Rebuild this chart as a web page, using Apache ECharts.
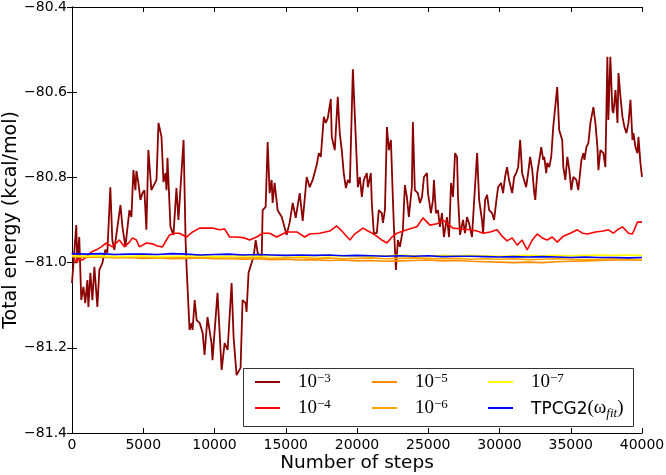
<!DOCTYPE html>
<html>
<head>
<meta charset="utf-8">
<script src="https://cdn.jsdelivr.net/npm/echarts@6/dist/echarts.min.js"></script>
<style>html,body{margin:0;padding:0;background:#fff}#c{width:666px;height:475px}</style>
</head>
<body>
<div id="c"></div>
<script>
// ---- data ----
const xTicks = [0, 5000, 10000, 15000, 20000, 25000, 30000, 35000, 40000];
const yTicks = [-81.4, -81.2, -81.0, -80.8, -80.6, -80.4];
const seriesNames = ['1e-3', '1e-4', '1e-5', '1e-6', '1e-7', 'TPCG2'];

// 10^-3 : [step, energy]
const tol1e3 = [[0,-81.048],[300,-80.912],[370,-81.001],[510,-80.940],[650,-81.088],[800,-81.057],[930,-81.095],[1080,-81.041],[1150,-81.104],[1290,-81.024],[1430,-81.088],[1570,-81.010],[1640,-81.041],[1780,-81.104],[1920,-81.017],[2130,-81.001],[2340,-80.970],[2480,-80.977],[2690,-80.823],[2830,-80.947],[2970,-80.970],[3190,-80.916],[3400,-80.865],[3540,-80.916],[3750,-80.963],[3820,-80.940],[4030,-80.877],[4170,-80.893],[4310,-80.783],[4450,-80.830],[4520,-80.785],[4660,-80.813],[4800,-80.853],[4940,-80.837],[5080,-80.830],[5220,-80.923],[5360,-80.736],[5570,-80.830],[5930,-80.806],[6070,-80.672],[6280,-80.705],[6420,-80.811],[6560,-80.790],[6630,-80.830],[6700,-80.754],[6910,-80.916],[7120,-80.935],[7330,-80.825],[7470,-80.900],[7830,-80.712],[7970,-80.947],[8040,-81.010],[8250,-81.158],[8390,-81.142],[8460,-81.158],[8610,-81.088],[8750,-81.135],[8960,-81.142],[9170,-81.165],[9300,-81.217],[9510,-81.128],[9790,-81.189],[9860,-81.229],[9930,-81.196],[10210,-81.071],[10500,-81.252],[10710,-81.189],[10920,-81.205],[11200,-81.048],[11340,-81.175],[11550,-81.264],[11830,-81.247],[11970,-81.088],[12180,-81.095],[12250,-81.116],[12390,-81.024],[12600,-81.001],[12740,-80.987],[12890,-80.947],[13030,-80.977],[13310,-80.989],[13380,-80.877],[13590,-80.869],[13730,-80.717],[13870,-80.837],[14010,-80.806],[14080,-80.860],[14220,-80.813],[14430,-80.877],[14720,-80.893],[14860,-80.895],[15060,-80.935],[15280,-80.905],[15490,-80.860],[15700,-80.895],[15980,-80.837],[16190,-80.902],[16470,-80.799],[16680,-80.823],[16890,-80.806],[17170,-80.771],[17320,-80.743],[17460,-80.752],[17670,-80.658],[17810,-80.672],[17950,-80.661],[18160,-80.616],[18230,-80.705],[18440,-80.736],[18650,-80.611],[18790,-80.696],[18930,-80.736],[19070,-80.790],[19220,-80.825],[19360,-80.806],[19500,-80.813],[19710,-80.546],[19920,-80.712],[20060,-80.823],[20200,-80.799],[20340,-80.846],[20480,-80.806],[20690,-80.790],[20760,-80.823],[20970,-80.790],[21040,-80.860],[21180,-80.931],[21390,-80.931],[21530,-80.877],[21740,-80.884],[21820,-80.907],[21960,-80.877],[22100,-80.682],[22240,-80.736],[22380,-80.712],[22520,-80.853],[22590,-80.916],[22730,-81.017],[22870,-80.947],[23010,-80.963],[23220,-80.923],[23360,-80.818],[23500,-80.846],[23640,-80.893],[23850,-80.823],[23920,-80.670],[24060,-80.830],[24270,-80.837],[24420,-80.860],[24560,-80.846],[24700,-80.799],[24910,-80.790],[24980,-80.837],[25190,-80.884],[25330,-80.853],[25400,-80.806],[25540,-80.884],[25680,-80.877],[25820,-80.916],[25960,-80.884],[26100,-80.940],[26310,-80.893],[26460,-80.940],[26600,-80.813],[26740,-80.846],[26880,-80.743],[27020,-80.752],[27090,-80.846],[27230,-80.935],[27440,-80.900],[27580,-80.931],[27720,-80.893],[27860,-80.907],[28070,-80.940],[28210,-80.860],[28430,-80.743],[28570,-80.853],[28770,-80.900],[28850,-80.931],[28990,-80.853],[29130,-80.841],[29270,-80.877],[29480,-80.884],[29620,-80.900],[29760,-80.860],[29900,-80.823],[30110,-80.813],[30250,-80.837],[30390,-80.799],[30530,-80.776],[30670,-80.806],[30890,-80.837],[31030,-80.799],[31170,-80.790],[31310,-80.776],[31450,-80.712],[31590,-80.790],[31870,-80.823],[32010,-80.790],[32150,-80.752],[32300,-80.783],[32440,-80.837],[32510,-80.853],[32650,-80.790],[32790,-80.787],[32930,-80.729],[33070,-80.759],[33140,-80.752],[33280,-80.790],[33350,-80.766],[33490,-80.776],[33630,-80.752],[33770,-80.682],[33910,-80.635],[34050,-80.588],[34190,-80.689],[34400,-80.712],[34480,-80.776],[34620,-80.806],[34760,-80.752],[34900,-80.783],[35040,-80.830],[35180,-80.799],[35390,-80.806],[35530,-80.830],[35750,-80.759],[35890,-80.743],[35960,-80.759],[36100,-80.729],[36240,-80.719],[36380,-80.672],[36590,-80.635],[36730,-80.672],[36870,-80.729],[36940,-80.783],[37080,-80.736],[37290,-80.743],[37430,-80.776],[37570,-80.517],[37640,-80.665],[37780,-80.517],[37920,-80.642],[37990,-80.649],[38140,-80.595],[38280,-80.672],[38350,-80.555],[38490,-80.611],[38630,-80.658],[38770,-80.682],[38910,-80.696],[39050,-80.672],[39190,-80.618],[39330,-80.712],[39400,-80.696],[39540,-80.729],[39680,-80.743],[39750,-80.705],[39890,-80.766],[40000,-80.799]];

// 10^-4 : [step, energy]
const tol1e4 = [[0,-80.977],[300,-81.001],[510,-80.989],[720,-80.994],[1000,-80.987],[1360,-80.975],[1710,-80.970],[2060,-80.963],[2410,-80.954],[2830,-80.963],[3320,-80.947],[3680,-80.963],[4030,-80.952],[4240,-80.942],[4520,-80.947],[4730,-80.963],[5220,-80.954],[5640,-80.956],[5990,-80.961],[6350,-80.963],[6630,-80.947],[6840,-80.935],[7190,-80.931],[7540,-80.931],[8030,-80.940],[8460,-80.928],[8950,-80.919],[9440,-80.919],[9860,-80.919],[10350,-80.923],[10710,-80.921],[11060,-80.940],[11550,-80.940],[12110,-80.942],[12460,-80.947],[12960,-80.940],[13380,-80.931],[13870,-80.931],[14360,-80.940],[15060,-80.928],[15770,-80.928],[16330,-80.940],[16680,-80.933],[17380,-80.931],[18090,-80.926],[18580,-80.914],[19000,-80.928],[19500,-80.947],[19840,-80.933],[20410,-80.919],[20900,-80.928],[21390,-80.938],[21740,-80.947],[22100,-80.954],[22450,-80.940],[22800,-80.931],[23500,-80.923],[24210,-80.916],[24630,-80.895],[25120,-80.912],[25610,-80.909],[26030,-80.900],[26740,-80.919],[27370,-80.921],[27930,-80.923],[28430,-80.926],[28850,-80.931],[29340,-80.928],[29830,-80.923],[30180,-80.938],[30530,-80.949],[30890,-80.942],[31240,-80.959],[31590,-80.947],[31940,-80.970],[32300,-80.947],[32650,-80.933],[33000,-80.942],[33350,-80.947],[33700,-80.940],[34050,-80.952],[34480,-80.938],[34970,-80.931],[35460,-80.923],[35820,-80.931],[36170,-80.933],[36730,-80.928],[37290,-80.926],[37640,-80.923],[37990,-80.931],[38280,-80.923],[38630,-80.916],[39050,-80.931],[39330,-80.933],[39680,-80.905],[40000,-80.905]];

// steps shared by the four nearly flat curves
const flatSteps = [0,1000,2000,3000,4000,5000,6000,7000,8000,9000,10000,11000,12000,13000,14000,15000,16000,17000,18000,19000,20000,21000,22000,23000,24000,25000,26000,27000,28000,29000,30000,31000,32000,33000,34000,35000,36000,37000,38000,39000,40000];
const tol1e5 = [-80.986,-80.988,-80.987,-80.989,-80.988,-80.990,-80.989,-80.991,-80.990,-80.989,-80.991,-80.990,-80.992,-80.991,-80.993,-80.992,-80.994,-80.993,-80.995,-80.994,-80.996,-80.995,-80.997,-80.996,-80.995,-80.994,-80.996,-80.995,-80.997,-80.998,-80.999,-81.000,-80.999,-81.000,-80.998,-80.997,-80.996,-80.995,-80.994,-80.993,-80.994];
const tol1e6 = [-80.985,-80.986,-80.987,-80.986,-80.988,-80.987,-80.989,-80.988,-80.987,-80.989,-80.988,-80.990,-80.989,-80.988,-80.990,-80.989,-80.988,-80.990,-80.989,-80.991,-80.990,-80.989,-80.991,-80.990,-80.989,-80.990,-80.991,-80.990,-80.992,-80.991,-80.992,-80.991,-80.993,-80.992,-80.991,-80.992,-80.993,-80.992,-80.991,-80.992,-80.993];
const tol1e7 = [-80.984,-80.985,-80.984,-80.986,-80.985,-80.984,-80.986,-80.985,-80.985,-80.984,-80.986,-80.985,-80.984,-80.985,-80.984,-80.983,-80.985,-80.984,-80.983,-80.985,-80.984,-80.985,-80.984,-80.983,-80.984,-80.985,-80.983,-80.984,-80.983,-80.984,-80.985,-80.984,-80.983,-80.984,-80.983,-80.984,-80.983,-80.982,-80.983,-80.982,-80.983];
const tpcg2 = [-80.979,-80.980,-80.979,-80.981,-80.980,-80.980,-80.981,-80.979,-80.980,-80.982,-80.981,-80.980,-80.982,-80.981,-80.982,-80.983,-80.982,-80.983,-80.982,-80.984,-80.983,-80.984,-80.985,-80.984,-80.985,-80.984,-80.986,-80.985,-80.985,-80.986,-80.987,-80.986,-80.987,-80.986,-80.987,-80.988,-80.987,-80.988,-80.988,-80.989,-80.988];

// ---- chart ----
const zip = (xs, ys) => xs.map((x, i) => [x, ys[i]]);
const colors = {'1e-3':'#8b0000','1e-4':'#ff0000','1e-5':'#ff8c00','1e-6':'#ffa500','1e-7':'#ffff00','TPCG2':'#0000ff'};
const dataMap = {
  '1e-3': tol1e3, '1e-4': tol1e4,
  '1e-5': zip(flatSteps, tol1e5), '1e-6': zip(flatSteps, tol1e6),
  '1e-7': zip(flatSteps, tol1e7), 'TPCG2': zip(flatSteps, tpcg2)
};
const sans = 'DejaVu Sans';
const serif = 'Liberation Serif';
const fmtY = v => (v < 0 ? '\u2212' : '') + Math.abs(v).toFixed(1);

const rich = {
  sp: {width: 13, fontSize: 17, lineHeight: 20},
  b: {fontFamily: serif, fontSize: 19, lineHeight: 20, color: '#000', verticalAlign: 'bottom'},
  s: {fontFamily: serif, fontSize: 13, lineHeight: 12, color: '#000', verticalAlign: 'top'},
  t: {fontFamily: sans, fontSize: 17, lineHeight: 20, color: '#000', verticalAlign: 'bottom'},
  m: {fontFamily: serif, fontSize: 19, lineHeight: 20, color: '#000', verticalAlign: 'bottom'},
  sub: {fontFamily: serif, fontStyle: 'italic', fontSize: 13, lineHeight: 12, color: '#000', verticalAlign: 'bottom', padding: [0,0,-2,0]}
};
const legendFmt = name => {
  if (name === 'TPCG2') return '{sp| }{t|TPCG2}{m|(\u03c9}{sub|fit}{m|)}';
  return '{sp| }{b|10}{s|\u2212' + name.slice(3) + '}';
};
const mkLegend = (names, left) => ({
  data: names, left: left, top: 372, orient: 'vertical', itemGap: 6,
  itemWidth: 25, itemHeight: 2, icon: 'rect', padding: 0,
  formatter: legendFmt, textStyle: {rich: rich, fontSize: 17, lineHeight: 20},
  selectedMode: false
});

const axisCommon = {
  type: 'value',
  axisLine: {show: true, lineStyle: {color: '#000', width: 1}},
  axisTick: {show: true, inside: true, length: 5, lineStyle: {color: '#000', width: 1}},
  splitLine: {show: false}
};

const option = {
  animation: false,
  backgroundColor: '#fff',
  grid: {left: 72, right: 24, top: 7, bottom: 42, containLabel: false, outerBoundsMode: 'none'},
  xAxis: [
    Object.assign({}, axisCommon, {
      position: 'bottom', min: xTicks[0], max: xTicks[xTicks.length - 1], interval: xTicks[1] - xTicks[0],
      axisLabel: {show: true, fontFamily: sans, fontSize: 14, color: '#000', margin: 5, formatter: v => String(v)},
      name: 'Number of steps', nameLocation: 'middle', nameGap: 21, nameMoveOverlap: false,
      nameTextStyle: {fontFamily: sans, fontSize: 18.5, color: '#000'}
    }),
    Object.assign({}, axisCommon, {
      position: 'top', min: xTicks[0], max: xTicks[xTicks.length - 1], interval: xTicks[1] - xTicks[0],
      axisLabel: {show: false}
    })
  ],
  yAxis: [
    Object.assign({}, axisCommon, {
      position: 'left', min: yTicks[0], max: yTicks[yTicks.length - 1], interval: 0.2,
      axisLabel: {show: true, fontFamily: sans, fontSize: 14, color: '#000', margin: 5, formatter: fmtY},
      name: 'Total energy (kcal/mol)', nameLocation: 'middle', nameGap: 51, nameMoveOverlap: false,
      nameTextStyle: {fontFamily: sans, fontSize: 19, color: '#000'}
    }),
    Object.assign({}, axisCommon, {
      position: 'right', min: yTicks[0], max: yTicks[yTicks.length - 1], interval: 0.2,
      axisLabel: {show: false}
    })
  ],
  legend: [
    mkLegend(['1e-3', '1e-4'], 255),
    mkLegend(['1e-5', '1e-6'], 372),
    mkLegend(['1e-7', 'TPCG2'], 488)
  ],
  graphic: {
    z: 3,
    elements: [{
      type: 'rect', z: 3,
      shape: {x: 243.5, y: 368.5, width: 390, height: 58},
      style: {fill: '#fff', stroke: '#333', lineWidth: 1}
    }]
  },
  series: seriesNames.map(n => ({
    name: n, type: 'line', xAxisIndex: 0, yAxisIndex: 0,
    data: dataMap[n], showSymbol: false, symbol: 'none',
    lineStyle: {color: colors[n], width: n === '1e-3' ? 1.8 : 1.6},
    itemStyle: {color: colors[n]},
    emphasis: {disabled: true}
  }))
};

echarts.init(document.getElementById('c'), null, {renderer: 'canvas'}).setOption(option);
</script>
</body>
</html>
